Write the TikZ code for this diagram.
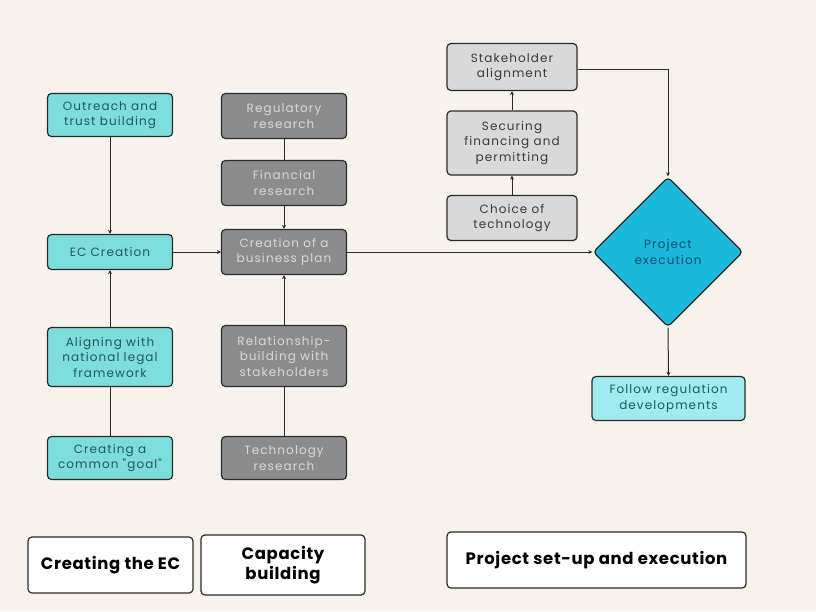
\documentclass[tikz,border=0pt]{standalone}
\usepackage{fontspec}
\setmainfont{Poppins}
\newfontfamily\boxfont{Poppins}[LetterSpace=9]
\newfontfamily\labfont{Poppins}[LetterSpace=4]
\usetikzlibrary{shapes.geometric,arrows.meta}
\definecolor{bg}{HTML}{F7F2EC}
\definecolor{teal}{HTML}{7DDCDC}
\definecolor{tealtext}{HTML}{1E5A5E}
\definecolor{darkg}{HTML}{8C8C8C}
\definecolor{darkgtext}{HTML}{D8D8D8}
\definecolor{lightg}{HTML}{D9D9D9}
\definecolor{lightgtext}{HTML}{3A3A3A}
\definecolor{diam}{HTML}{1BB8DB}
\definecolor{diamtext}{HTML}{0E4E6E}
\definecolor{follow}{HTML}{A0EBF0}
\definecolor{edge}{HTML}{2A2A2A}
\tikzset{
  base/.style={draw=edge, line width=1.2pt, rounded corners=4pt, align=center,
    font=\boxfont\fontsize{12}{15.5}\selectfont, inner sep=0pt},
  tealbox/.style={base, fill=teal, text=tealtext, minimum width=125pt},
  darkbox/.style={base, fill=darkg, text=darkgtext, minimum width=125pt},
  lightbox/.style={base, fill=lightg, text=lightgtext, minimum width=130pt},
  labelbox/.style={base, fill=white, text=black, font=\labfont\fontsize{16.5}{20}\selectfont\bfseries},
  conn/.style={draw=edge, line width=1pt},
  arr/.style={conn, -{Stealth[length=4pt,width=4pt]}},
}
\begin{document}
\begin{tikzpicture}[x=1pt,y=-1pt]
\useasboundingbox[fill=bg] (0,0) rectangle (816,611);
% column 1
\node[tealbox, minimum height=43pt] (out) at (110,115) {Outreach and\\trust building};
\node[tealbox, minimum height=35pt] (ec) at (110,252) {EC Creation};
\node[tealbox, minimum height=59pt] (ali) at (110,357) {Aligning with\\national legal\\framework};
\node[tealbox, minimum height=43pt] (goal) at (110,458) {Creating a\\common "goal"};
% column 2
\node[darkbox, minimum height=45pt] (reg) at (284,116) {Regulatory\\research};
\node[darkbox, minimum height=45pt] (fin) at (284,183) {Financial\\research};
\node[darkbox, minimum height=45pt] (bp) at (284,252) {Creation of a\\business plan};
\node[darkbox, minimum height=61pt] (rel) at (284,356) {Relationship-\\building with\\stakeholders};
\node[darkbox, minimum height=43pt] (tech) at (284,458) {Technology\\research};
% column 3
\node[lightbox, minimum height=47pt] (stk) at (512,67) {Stakeholder\\alignment};
\node[lightbox, minimum height=64pt] (sec) at (512,143) {Securing\\financing and\\permitting};
\node[lightbox, minimum height=45pt] (cho) at (512,218) {Choice of\\technology};
\node[diamond, draw=edge, line width=1.2pt, fill=diam, text=diamtext, align=center,
  font=\boxfont\fontsize{12}{15.5}\selectfont, minimum width=150pt, minimum height=150pt,
  inner sep=0pt, rounded corners=4pt] (pe) at (668,252) {Project\\execution};
\node[base, fill=follow, text=tealtext, minimum width=153pt, minimum height=44pt] (fol) at (668.5,398.5) {Follow regulation\\developments};
% labels
\node[labelbox, minimum width=165pt, minimum height=56pt] (l1) at (110.5,565) {Creating the EC};
\node[labelbox, minimum width=164pt, minimum height=60pt] (l2) at (283,565) {Capacity\\building};
\node[labelbox, minimum width=299pt, minimum height=56pt] (l3) at (596.5,560) {Project set-up and execution};
% connectors
\draw[arr] (out) -- (ec);
\draw[arr] (ali) -- (ec);
\draw[conn] (goal) -- (ali);
\draw[arr] (ec) -- (bp);
\draw[conn] (reg) -- (fin);
\draw[arr] (fin) -- (bp);
\draw[arr] (rel) -- (bp);
\draw[conn] (tech) -- (rel);
\draw[arr] (bp.east) -- (pe.west);
\draw[arr] (cho) -- (sec);
\draw[arr] (sec) -- (stk);
\draw[arr] ([yshift=-2pt]stk.east) -| (pe.north);
\draw[arr] (pe.south) -- (fol.north);
\end{tikzpicture}
\end{document}
